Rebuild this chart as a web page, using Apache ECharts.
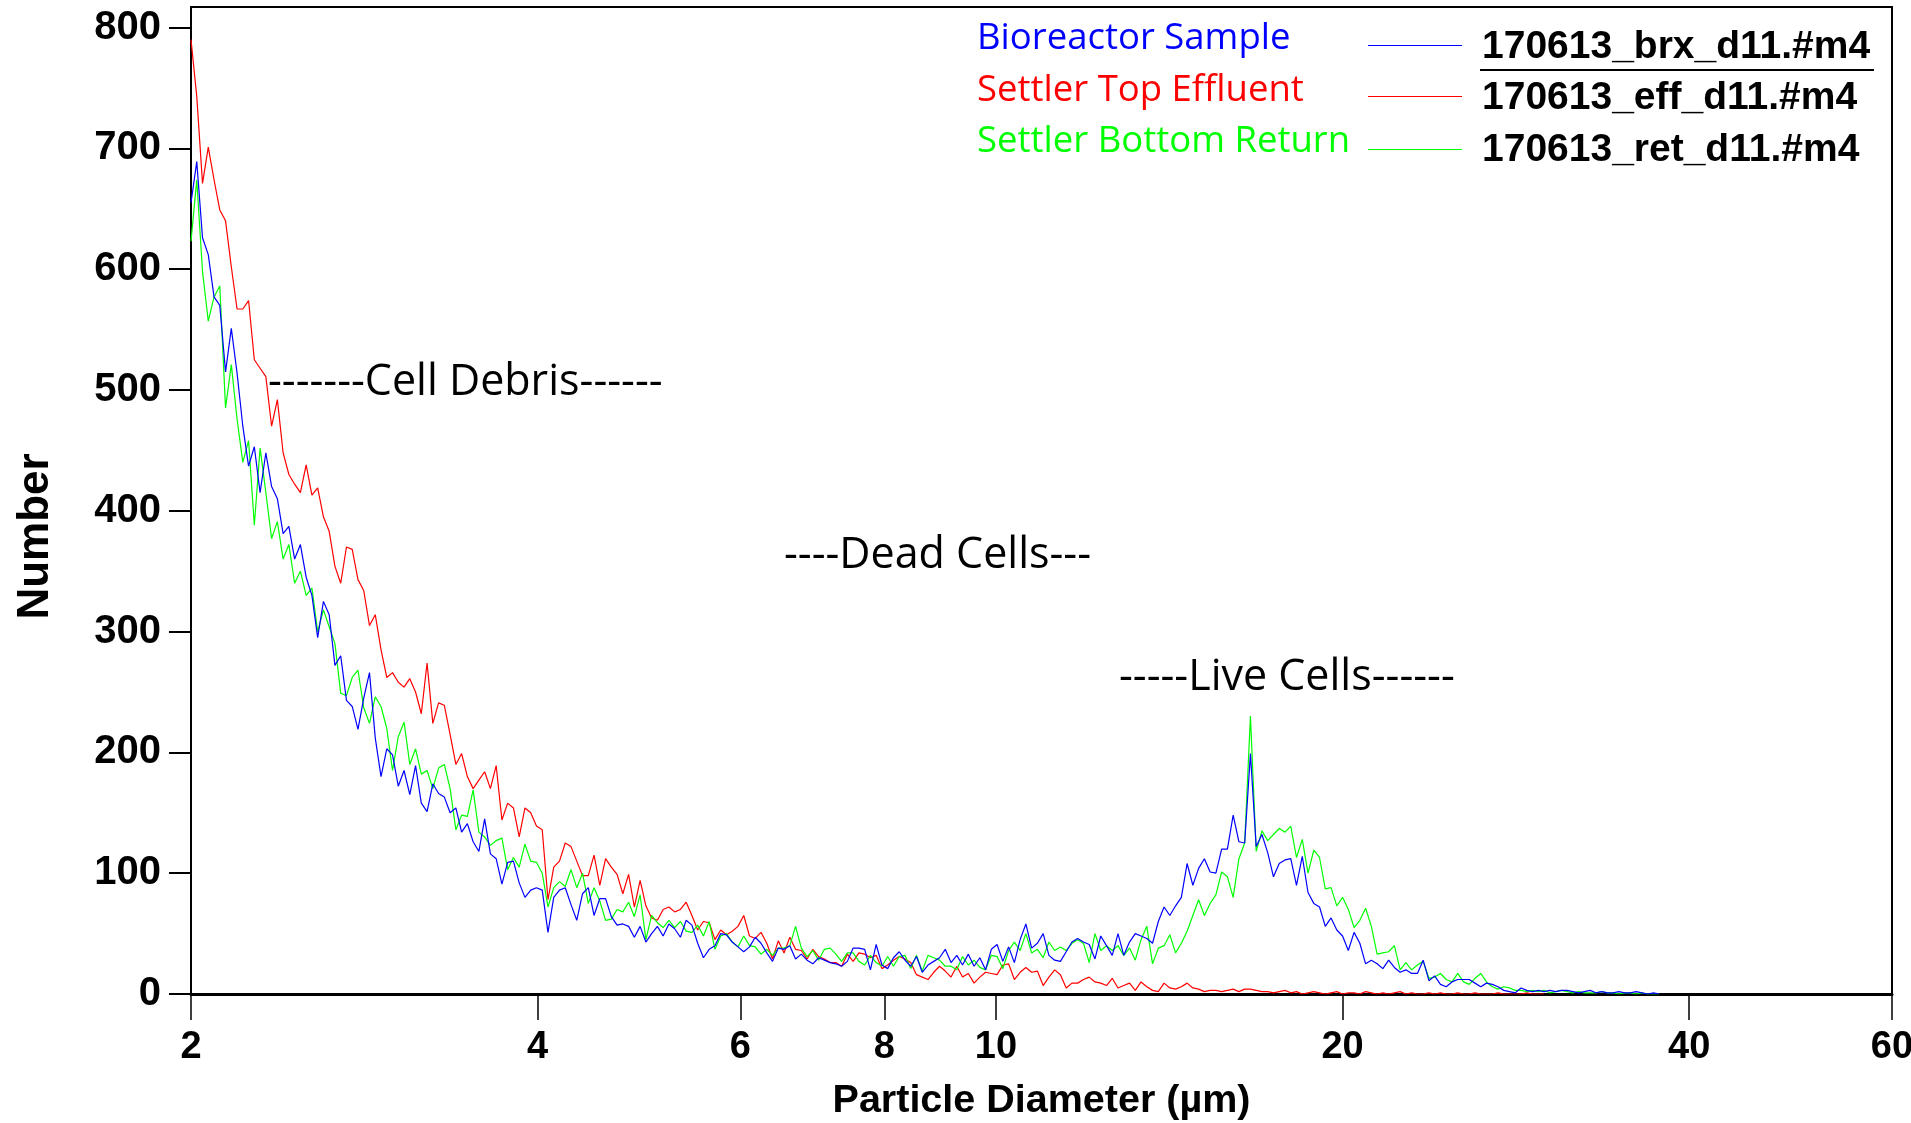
<!DOCTYPE html>
<html>
<head>
<meta charset="utf-8">
<title>Particle size distribution</title>
<script src="https://cdn.jsdelivr.net/npm/echarts@6/dist/echarts.min.js"></script>
<style>
  html, body { margin: 0; padding: 0; background: #fff; }
  #chart { width: 1911px; height: 1123px; }
</style>
</head>
<body>
<div id="chart"></div>
<script>
// Multisizer export: channels start at 2 µm, 200 channels per decade
var firstChannel = 2;
var channelsPerDecade = 200;

// counts per channel
var effluent = [
  790, 743, 671, 701, 674, 649, 640, 602, 567, 567,
  574, 525, 518, 511, 470, 492, 448, 430, 422, 415,
  438, 413, 419, 395, 383, 354, 340, 370, 368, 343,
  334, 305, 314, 285, 262, 266, 258, 254, 261, 250,
  232, 274, 224, 241, 239, 215, 190, 199, 180, 170,
  177, 184, 170, 189, 144, 158, 154, 130, 154, 150,
  139, 136, 78, 105, 110, 125, 122, 110, 98, 98,
  115, 90, 112, 105, 99, 83, 99, 72, 94, 73,
  63, 61, 70, 72, 68, 70, 76, 65, 53, 60,
  59, 45, 53, 49, 52, 56, 65, 48, 46, 51,
  42, 29, 44, 34, 47, 37, 36, 29, 37, 31,
  29, 26, 26, 23, 33, 27, 34, 33, 30, 32,
  21, 24, 28, 31, 29, 26, 16, 14, 12, 18,
  23, 19, 14, 23, 14, 17, 9, 14, 18, 17,
  16, 24, 25, 12, 18, 22, 18, 19, 7, 14,
  20, 16, 5, 9, 9, 12, 14, 10, 9, 7,
  13, 5, 7, 9, 3, 10, 6, 3, 2, 9,
  5, 4, 6, 9, 5, 4, 2, 3, 3, 2,
  3, 4, 2, 4, 4, 3, 2, 2, 1, 2,
  3, 1, 2, 0, 1, 2, 1, 0, 1, 2,
  0, 1, 1, 0, 2, 1, 0, 1, 0, 1,
  2, 0, 1, 0, 0, 1, 0, 1, 0, 0,
  1, 0, 0, 1, 0, 0, 0, 1, 0, 0,
  0, 0, 1, 0, 0, 0
];

var bioreactor = [
  655, 689, 626, 612, 577, 570, 515, 551, 514, 470,
  437, 453, 415, 448, 420, 410, 381, 387, 360, 372,
  345, 330, 295, 325, 314, 272, 280, 243, 238, 219,
  245, 266, 212, 180, 203, 198, 172, 185, 165, 189,
  158, 151, 174, 166, 163, 150, 154, 134, 141, 126,
  118, 145, 116, 112, 91, 109, 110, 92, 80, 86,
  88, 86, 51, 80, 86, 88, 74, 61, 83, 88,
  65, 79, 79, 64, 57, 58, 56, 47, 56, 43,
  50, 56, 48, 58, 54, 47, 61, 57, 42, 30,
  37, 40, 50, 49, 43, 39, 35, 39, 47, 42,
  34, 27, 38, 37, 40, 29, 33, 28, 25, 30,
  28, 26, 25, 23, 27, 38, 38, 37, 20, 41,
  24, 21, 30, 35, 28, 23, 31, 18, 24, 27,
  30, 37, 26, 32, 24, 33, 23, 30, 20, 37,
  41, 27, 39, 26, 45, 58, 38, 42, 50, 32,
  28, 27, 35, 43, 46, 43, 41, 29, 48, 40,
  32, 50, 32, 43, 50, 48, 46, 42, 60, 72,
  65, 73, 80, 108, 90, 104, 112, 101, 100, 120,
  120, 148, 126, 125, 199, 122, 132, 117, 97, 108,
  111, 112, 90, 114, 84, 75, 72, 56, 63, 53,
  48, 36, 51, 42, 25, 28, 25, 21, 28, 22,
  18, 20, 17, 17, 28, 11, 15, 8, 6, 10,
  12, 12, 12, 9, 6, 9, 8, 6, 3, 2,
  1, 5, 3, 2, 3, 2, 3, 2, 3, 3,
  2, 1, 2, 3, 1, 2, 1, 1, 2, 1,
  1, 2, 1, 0, 1, 0
];

var bottomReturn = [
  623, 674, 598, 557, 577, 586, 485, 521, 476, 440,
  458, 388, 452, 415, 377, 391, 360, 372, 340, 350,
  330, 336, 300, 318, 304, 290, 249, 247, 262, 268,
  237, 224, 246, 238, 220, 185, 213, 225, 190, 203,
  182, 185, 170, 187, 190, 170, 136, 148, 147, 169,
  134, 130, 123, 127, 129, 103, 113, 105, 124, 110,
  109, 100, 72, 88, 93, 89, 103, 88, 100, 75,
  88, 77, 61, 62, 70, 68, 76, 64, 82, 45,
  65, 59, 55, 61, 55, 60, 52, 51, 57, 48,
  60, 37, 48, 50, 43, 39, 48, 40, 39, 33,
  37, 32, 38, 38, 40, 56, 38, 31, 36, 28,
  37, 38, 33, 27, 34, 34, 27, 24, 32, 26,
  23, 31, 23, 31, 32, 21, 32, 19, 32, 30,
  28, 23, 23, 20, 31, 24, 28, 22, 20, 32,
  31, 21, 36, 43, 36, 50, 34, 37, 30, 43,
  36, 39, 36, 42, 45, 42, 26, 50, 36, 40,
  36, 40, 32, 38, 28, 45, 56, 25, 38, 40,
  49, 34, 42, 52, 65, 78, 65, 75, 82, 101,
  97, 80, 112, 125, 230, 118, 135, 127, 132, 137,
  134, 139, 113, 128, 100, 119, 113, 87, 88, 73,
  80, 70, 55, 61, 71, 56, 33, 34, 35, 40,
  20, 26, 20, 24, 27, 13, 14, 17, 12, 10,
  17, 10, 8, 13, 17, 10, 6, 4, 6, 5,
  3, 3, 2, 3, 2, 3, 1, 2, 3, 2,
  1, 2, 1, 1, 1, 2, 1, 1, 0, 1,
  1, 0, 1, 0, 0, 0
];

var xTicks = [2, 4, 6, 8, 10, 20, 40, 60];
var yTicks = [0, 100, 200, 300, 400, 500, 600, 700, 800];

// channel centre diameters (µm)
var diameters = bioreactor.map(function (_, i) {
  return firstChannel * Math.pow(10, i / channelsPerDecade);
});

// x is plotted on log10(diameter)
function toPoints(values) {
  return values.map(function (v, i) { return [Math.log10(diameters[i]), v]; });
}

var tickFont = '"Liberation Sans", Arial, sans-serif';
var noteFont = '"Open Sans", sans-serif';

var chart = echarts.init(document.getElementById('chart'));

var option = {
  animation: false,
  backgroundColor: '#fff',
  grid: {
    left: 191, right: 19, top: 7, bottom: 129,
    show: true, borderColor: '#000', borderWidth: 2,
    outerBoundsMode: 'none'
  },
  xAxis: {
    type: 'value',
    min: Math.log10(2),
    max: Math.log10(60),
    name: 'Particle Diameter (µm)',
    nameLocation: 'middle',
    nameGap: 87,
    nameMoveOverlap: false,
    nameTextStyle: { fontFamily: tickFont, fontWeight: 'bold', fontSize: 39.5, color: '#000' },
    axisLine: { show: true, lineStyle: { color: '#000', width: 3 } },
    axisTick: {
      show: true, inside: false, length: 26,
      lineStyle: { color: '#000', width: 1.5 },
      customValues: xTicks.map(function (d) { return Math.log10(d); })
    },
    axisLabel: {
      customValues: xTicks.map(function (d) { return Math.log10(d); }),
      formatter: function (v) { return String(Math.round(Math.pow(10, v))); },
      margin: 35,
      showMinLabel: true, showMaxLabel: true,
      fontFamily: tickFont, fontWeight: 'bold', fontSize: 38, color: '#000'
    },
    splitLine: { show: false }
  },
  yAxis: {
    type: 'value',
    min: 0,
    max: 817,
    name: 'Number',
    nameLocation: 'middle',
    nameGap: 133,
    nameMoveOverlap: false,
    nameTextStyle: {
      fontFamily: tickFont, fontWeight: 'bold', fontSize: 44, color: '#000',
      padding: [0, 72, 0, 0]
    },
    axisLine: { show: true, lineStyle: { color: '#000', width: 2 } },
    axisTick: {
      show: true, inside: false, length: 22,
      lineStyle: { color: '#000', width: 2 },
      customValues: yTicks
    },
    axisLabel: {
      customValues: yTicks,
      margin: 30,
      fontFamily: tickFont, fontWeight: 'bold', fontSize: 40, color: '#000'
    },
    splitLine: { show: false }
  },
  series: [
    {
      name: '170613_eff_d11.#m4', type: 'line', data: toPoints(effluent),
      symbol: 'none', showSymbol: false, silent: true,
      lineStyle: { color: '#ff0000', width: 1.2 }, itemStyle: { color: '#ff0000' }
    },
    {
      name: '170613_ret_d11.#m4', type: 'line', data: toPoints(bottomReturn),
      symbol: 'none', showSymbol: false, silent: true,
      lineStyle: { color: '#00ff00', width: 1.2 }, itemStyle: { color: '#00ff00' }
    },
    {
      name: '170613_brx_d11.#m4', type: 'line', data: toPoints(bioreactor),
      symbol: 'none', showSymbol: false, silent: true,
      lineStyle: { color: '#0000ff', width: 1.2 }, itemStyle: { color: '#0000ff' }
    }
  ],
  graphic: [
    // legend: sample names, line keys, file names
    { type: 'text', x: 977, y: 39, style: { text: 'Bioreactor Sample', fontFamily: noteFont, fontSize: 36.5, fill: '#0000ff', verticalAlign: 'middle' } },
    { type: 'text', x: 977, y: 91, style: { text: 'Settler Top Effluent', fontFamily: noteFont, fontSize: 36.5, fill: '#ff0000', verticalAlign: 'middle' } },
    { type: 'text', x: 977, y: 142, style: { text: 'Settler Bottom Return', fontFamily: noteFont, fontSize: 36.5, fill: '#00ff00', verticalAlign: 'middle' } },
    { type: 'line', shape: { x1: 1368, y1: 45.5, x2: 1462, y2: 45.5 }, style: { stroke: '#0000ff', lineWidth: 1 } },
    { type: 'line', shape: { x1: 1368, y1: 96.5, x2: 1462, y2: 96.5 }, style: { stroke: '#ff0000', lineWidth: 1 } },
    { type: 'line', shape: { x1: 1368, y1: 149.5, x2: 1462, y2: 149.5 }, style: { stroke: '#00ff00', lineWidth: 1 } },
    { type: 'text', x: 1482, y: 47, style: { text: '170613_brx_d11.#m4', fontFamily: tickFont, fontWeight: 'bold', fontSize: 39, fill: '#000', verticalAlign: 'middle' } },
    { type: 'line', shape: { x1: 1480, y1: 70, x2: 1874, y2: 70 }, style: { stroke: '#000', lineWidth: 2 } },
    { type: 'text', x: 1482, y: 98, style: { text: '170613_eff_d11.#m4', fontFamily: tickFont, fontWeight: 'bold', fontSize: 39, fill: '#000', verticalAlign: 'middle' } },
    { type: 'text', x: 1482, y: 150, style: { text: '170613_ret_d11.#m4', fontFamily: tickFont, fontWeight: 'bold', fontSize: 39, fill: '#000', verticalAlign: 'middle' } },
    // region notes
    { type: 'text', x: 268, y: 383, style: { text: '-------Cell Debris------', fontFamily: noteFont, fontSize: 43, fill: '#000', verticalAlign: 'middle' } },
    { type: 'text', x: 784, y: 556, style: { text: '----Dead Cells---', fontFamily: noteFont, fontSize: 43, fill: '#000', verticalAlign: 'middle' } },
    { type: 'text', x: 1119, y: 678, style: { text: '-----Live Cells------', fontFamily: noteFont, fontSize: 43, fill: '#000', verticalAlign: 'middle' } }
  ]
};

chart.setOption(option);
</script>
</body>
</html>
